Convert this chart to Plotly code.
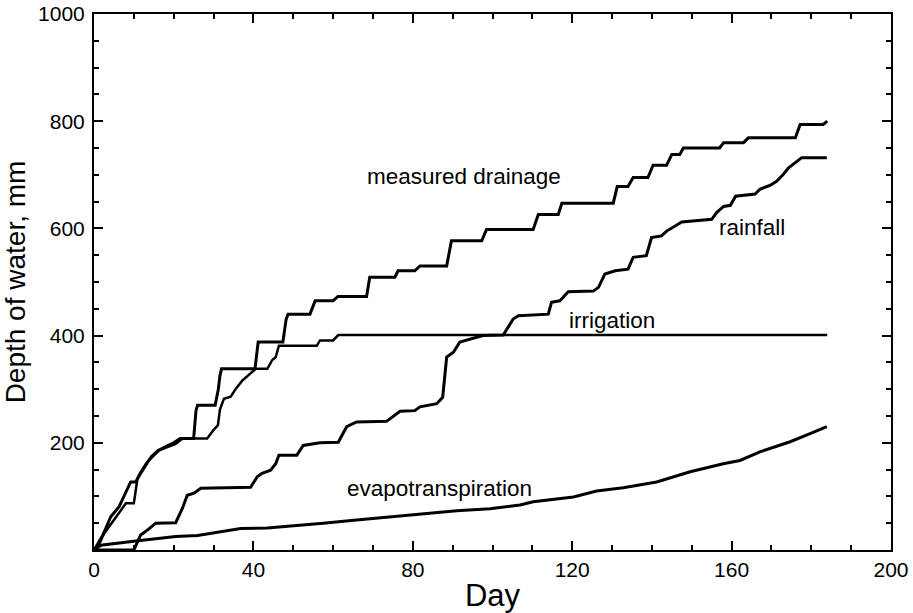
import plotly.graph_objects as go

# ---- data ----
drain_day = [0, 1.5, 4.2, 6.3, 9.2, 10.5, 11.5, 13, 14.5, 16, 18.5, 20, 21.6, 25, 25.6, 26, 30.4, 31.2, 31.6, 32,
             40.4, 41.2, 47.4, 48.2, 48.7, 54.2, 55.5, 60, 61.2, 68.4, 69.2, 75.5, 76.3, 80.5, 81.8, 88.5, 89.7,
             97.3, 98.5, 110.2, 111.5, 116.5, 117.4, 130.3, 131.3, 134, 135.3, 139, 140.3, 143.7, 145, 147, 147.9,
             157, 158, 163, 164.2, 176, 177.2, 183, 184]
drain_mm = [0, 15, 62, 81, 127, 127, 142, 160, 175, 185, 195, 200, 208, 208, 260, 270, 270, 300, 325, 338,
            338, 388, 388, 430, 440, 440, 465, 465, 473, 473, 509, 509, 521, 521, 530, 530, 577,
            577, 598, 598, 626, 626, 647, 647, 678, 678, 695, 695, 718, 718, 738, 738, 750,
            750, 760, 760, 769, 769, 794, 794, 800]

irr_day = [0, 1.7, 8, 10, 10.9, 12, 13.8, 16.3, 19.2, 20.5, 22.2, 28.4, 29.9, 31.1, 31.6, 32.6, 34.3, 35.6,
           37.2, 39.3, 40.6, 43.5, 44.7, 45.6, 46.4, 55.9, 56.7, 60, 61.3, 184]
irr_mm = [0, 22, 87, 87, 133, 145, 167, 186, 195, 198, 208, 208, 223, 233, 262, 282, 286, 301,
          316, 329, 338, 338, 354, 360, 381, 381, 391, 391, 401, 401]

rain_day = [0, 10, 11.7, 13.4, 15.5, 20.5, 22.2, 23.4, 25.1, 26.8, 39.3, 41, 42.2, 44.3, 45.6, 46.4, 50.9,
            52.5, 56.7, 61.3, 63.4, 65.9, 73.4, 75.1, 76.8, 80.5, 81.8, 86, 87.5, 88.5, 90.2, 91.8, 94.8,
            97.6, 102.7, 105.2, 106.5, 114, 114.8, 116.9, 119, 125.3, 126.6, 128.2, 130.8, 134, 135.3,
            138.6, 139.9, 142.4, 143.7, 145.4, 147.5, 155, 156.3, 158, 159.7, 161, 165.9, 167.1, 169.6,
            171.3, 173, 174.3, 176, 177.6, 183.9]
rain_mm = [0, 0, 28, 37, 50, 51, 78, 102, 106, 115, 117, 137, 143, 149, 161, 177, 177,
           195, 200, 201, 230, 239, 240, 250, 259, 260, 267, 273, 285, 360, 369, 388, 394,
           400, 401, 431, 437, 440, 462, 465, 482, 483, 490, 515, 521, 524, 546,
           549, 583, 586, 595, 602, 612, 617, 630, 641, 643, 660, 664, 673, 680,
           688, 701, 713, 723, 732, 732]

et_day = [0, 1.7, 10.5, 20.5, 26, 31.8, 36.8, 43.5, 50.2, 57.5, 65.9, 74.3, 82.6, 91, 99.4, 106.9,
          110.2, 120.3, 126.1, 132.8, 141.2, 145.4, 149.6, 157.9, 162.1, 167.1, 174.7, 179.7, 183.9]
et_mm = [0, 9, 17, 25, 27, 34, 40, 41, 45, 50, 56, 62, 68, 73, 77, 84,
         90, 99, 110, 116, 127, 137, 146, 161, 167, 183, 202, 217, 230]

labels = ["measured drainage", "rainfall", "irrigation", "evapotranspiration"]
label_day = [92.8, 165.2, 129.9, 86.7]
label_mm = [697, 602, 428, 115]

y_ticks = [0, 200, 400, 600, 800, 1000]
y_ticktext = ["", "200", "400", "600", "800", "1000"]
x_ticks = [0, 40, 80, 120, 160, 200]

FONT = "Liberation Sans, Arial, Helvetica, sans-serif"

fig = go.Figure()
for d, v, w in [(drain_day, drain_mm, 3), (irr_day, irr_mm, 2.5), (rain_day, rain_mm, 3), (et_day, et_mm, 3)]:
    fig.add_trace(go.Scatter(x=d, y=v, mode="lines", line=dict(color="black", width=w),
                             showlegend=False, hoverinfo="skip", cliponaxis=False))

for t, xd, yd in zip(labels, label_day, label_mm):
    fig.add_annotation(x=xd, y=yd, text=t, showarrow=False,
                       font=dict(family=FONT, size=22.5, color="black"))

axis_common = dict(showline=True, linecolor="black", linewidth=2, mirror="ticks",
                   ticks="inside", ticklen=9, tickwidth=2, tickcolor="black",
                   showgrid=False, zeroline=False, automargin=False,
                   tickfont=dict(family=FONT, size=21, color="black"))

fig.update_xaxes(range=[0, 200], tickmode="array", tickvals=x_ticks,
                 minor=dict(tickmode="linear", tick0=0, dtick=10, ticks="inside", ticklen=5,
                            tickwidth=2, tickcolor="black", showgrid=False),
                 title=dict(text="Day", font=dict(family=FONT, size=31, color="black"), standoff=6),
                 **axis_common)
fig.update_yaxes(range=[0, 1000], tickmode="array", tickvals=y_ticks, ticktext=y_ticktext,
                 ticklabelstandoff=3,
                 minor=dict(tickmode="linear", tick0=0, dtick=50, ticks="inside", ticklen=5,
                            tickwidth=2, tickcolor="black", showgrid=False),
                 title=dict(text="Depth of water, mm", font=dict(family=FONT, size=28, color="black"), standoff=8),
                 **axis_common)

fig.update_layout(width=913, height=613, margin=dict(l=94, r=22, t=14, b=63),
                  plot_bgcolor="white", paper_bgcolor="white")

fig.write_html("out.html")
